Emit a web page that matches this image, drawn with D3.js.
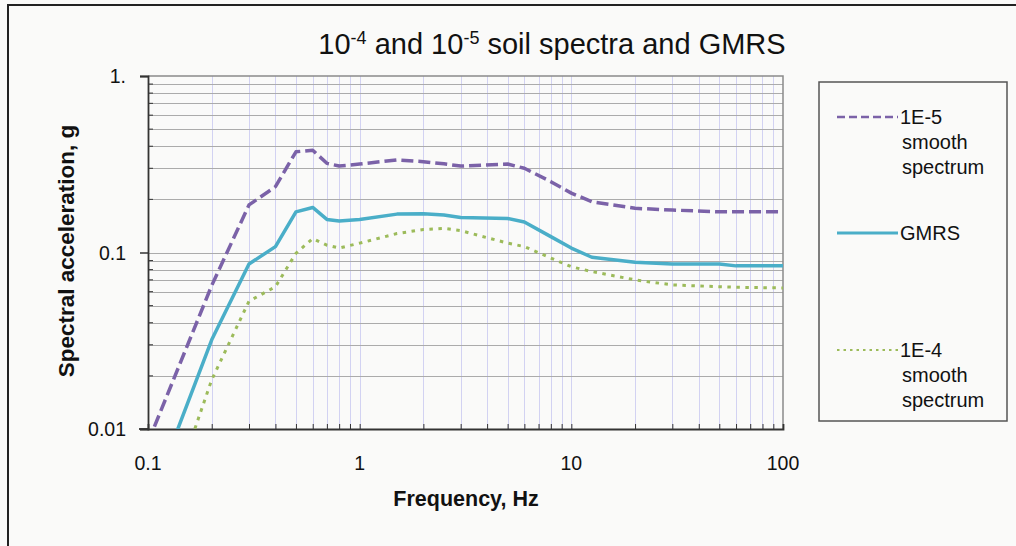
<!DOCTYPE html>
<html>
<head>
<meta charset="utf-8">
<script src="https://cdn.jsdelivr.net/npm/d3@7"></script>
<style>
  html, body { margin: 0; padding: 0; background: #fafaf9; }
  svg { display: block; font-family: "Liberation Sans", Arial, sans-serif; }
</style>
</head>
<body>
<svg id="chart" width="1016" height="546"></svg>
<script>
// Frequencies (Hz) shared by all three spectra
const frequencies = [0.1, 0.2, 0.3, 0.4, 0.5, 0.6, 0.7, 0.8, 1, 1.5, 2, 2.5, 3, 5, 6, 8, 10, 12.5, 20, 30, 50, 60, 100];
// Spectral acceleration (g)
const spectrum1E5 = [0.0084, 0.065, 0.186, 0.236, 0.372, 0.38, 0.32, 0.309, 0.317, 0.335, 0.327, 0.318, 0.309, 0.317, 0.30, 0.252, 0.217, 0.194, 0.178, 0.174, 0.17, 0.17, 0.17];
const gmrs = [0.0036, 0.032, 0.086, 0.108, 0.170, 0.180, 0.154, 0.151, 0.154, 0.165, 0.166, 0.163, 0.158, 0.156, 0.149, 0.123, 0.106, 0.094, 0.088, 0.086, 0.086, 0.084, 0.084];
const spectrum1E4 = [0.0017, 0.019, 0.053, 0.064, 0.099, 0.120, 0.110, 0.106, 0.113, 0.128, 0.135, 0.137, 0.133, 0.113, 0.108, 0.093, 0.083, 0.078, 0.070, 0.0655, 0.064, 0.0635, 0.063];

const seriesNames = ["1E-5 smooth spectrum", "GMRS", "1E-4 smooth spectrum"];
const xTickValues = [0.1, 1, 10, 100];
const xTickLabels = ["0.1", "1", "10", "100"];
const yTickValues = [0.01, 0.1, 1];
const yTickLabels = ["0.01", "0.1", "1."];

const svg = d3.select("#chart");

// outer frame
svg.append("rect").attr("x", 8).attr("y", 5).attr("width", 1030).attr("height", 560)
  .attr("fill", "#fafaf9").attr("stroke", "#222").attr("stroke-width", 2);

const x = d3.scaleLog().domain([0.1, 100]).range([148, 783]);
const y = d3.scaleLog().domain([0.01, 1]).range([429, 76]);

// minor decade values
const minors = (lo, hi) => {
  const out = [];
  for (let d = lo; d < hi; d *= 10) for (let k = 2; k <= 9; k++) out.push(d * k);
  return out;
};
const xGrid = minors(0.1, 100).concat([1, 10]);
const yGrid = minors(0.01, 1).concat([0.1]);

const grid = svg.append("g");
grid.selectAll("line.v").data(xGrid).join("line")
  .attr("x1", d => Math.round(x(d)) + 0.5).attr("x2", d => Math.round(x(d)) + 0.5)
  .attr("y1", y(1)).attr("y2", y(0.01))
  .attr("stroke", "#d2d2f2").attr("stroke-width", 1);
grid.selectAll("line.h").data(yGrid).join("line")
  .attr("y1", d => Math.round(y(d)) + 0.5).attr("y2", d => Math.round(y(d)) + 0.5)
  .attr("x1", x(0.1)).attr("x2", x(100))
  .attr("stroke", "#ababab").attr("stroke-width", 1);

// plot border top/right
svg.append("path")
  .attr("d", `M${x(0.1)},${y(1)}H${x(100)}V${y(0.01)}`)
  .attr("fill", "none").attr("stroke", "#8a8a8a").attr("stroke-width", 1.5);

// x axis
const xAxis = d3.axisBottom(x).tickValues(minors(0.1, 100).concat(xTickValues))
  .tickSize(-5).tickFormat("");
svg.append("g").attr("transform", `translate(0,${y(0.01)})`).call(xAxis)
  .call(g => g.select(".domain").attr("stroke", "#333").attr("stroke-width", 1.8))
  .call(g => g.selectAll(".tick line").attr("stroke", "#333").attr("stroke-width", 1));
svg.append("line").attr("x1", 139).attr("x2", x(0.1)).attr("y1", y(0.01)).attr("y2", y(0.01))
  .attr("stroke", "#333").attr("stroke-width", 1.8);

// y axis
const yAxis = d3.axisLeft(y).tickValues(yTickValues).tickSize(8).tickFormat("");
svg.append("g").attr("transform", `translate(${x(0.1)},0)`).call(yAxis)
  .call(g => g.select(".domain").attr("stroke", "#333").attr("stroke-width", 1.8))
  .call(g => g.selectAll(".tick line").attr("stroke", "#333").attr("stroke-width", 1.5));
svg.append("g").selectAll("line").data(minors(0.01, 1)).join("line")
  .attr("x1", x(0.1)).attr("x2", x(0.1) + 5)
  .attr("y1", d => y(d)).attr("y2", d => y(d))
  .attr("stroke", "#333").attr("stroke-width", 1);

// tick labels
svg.append("g").selectAll("text").data(xTickValues).join("text")
  .attr("x", d => x(d)).attr("y", 470)
  .attr("text-anchor", "middle").attr("font-size", 19.5).attr("fill", "#111")
  .text((d, i) => xTickLabels[i]);
svg.append("g").selectAll("text").data(yTickValues).join("text")
  .attr("x", 126).attr("y", d => y(d) + 7)
  .attr("text-anchor", "end").attr("font-size", 19.5).attr("fill", "#111")
  .text((d, i) => yTickLabels[i]);

// axis titles
svg.append("text").attr("x", 466).attr("y", 506).attr("text-anchor", "middle")
  .attr("font-size", 21.5).attr("font-weight", "bold").attr("fill", "#111")
  .text("Frequency, Hz");
svg.append("text").attr("transform", "translate(74,251) rotate(-90)").attr("text-anchor", "middle")
  .attr("font-size", 22.5).attr("font-weight", "bold").attr("fill", "#111")
  .text("Spectral acceleration, g");

// title
const title = svg.append("text").attr("x", 552).attr("y", 54).attr("text-anchor", "middle")
  .attr("font-size", 29).attr("fill", "#111");
title.append("tspan").text("10");
title.append("tspan").attr("font-size", 18).attr("dy", -10).text("-4");
title.append("tspan").attr("dy", 10).text(" and 10");
title.append("tspan").attr("font-size", 18).attr("dy", -10).text("-5");
title.append("tspan").attr("dy", 10).text(" soil spectra and GMRS");

// series
svg.append("clipPath").attr("id", "plotClip").append("rect")
  .attr("x", x(0.1)).attr("y", y(1)).attr("width", x(100) - x(0.1)).attr("height", y(0.01) - y(1));

const styles = [
  { values: spectrum1E5, color: "#7b62a8", width: 3.5, dash: "12,5", lw: 2.5, ldash: "8,4" },
  { values: gmrs, color: "#4aaec8", width: 3.5, dash: null, lw: 3, ldash: null },
  { values: spectrum1E4, color: "#9cbb5a", width: 3, dash: "3.5,5.5", lw: 2, ldash: "2.5,4" }
];
const line = d3.line().x(d => x(d[0])).y(d => y(d[1]));
const lines = svg.append("g").attr("clip-path", "url(#plotClip)");
styles.forEach(s => {
  lines.append("path")
    .datum(frequencies.map((f, i) => [f, s.values[i]]))
    .attr("d", line).attr("fill", "none")
    .attr("stroke", s.color).attr("stroke-width", s.width)
    .attr("stroke-linejoin", "round")
    .attr("stroke-dasharray", s.dash);
});

// legend
const lg = svg.append("g");
lg.append("rect").attr("x", 819).attr("y", 82).attr("width", 188).attr("height", 339)
  .attr("fill", "#fafaf9").attr("stroke", "#555").attr("stroke-width", 1.5);
const legendRows = [
  { y: 117, lines: ["1E-5", "smooth", "spectrum"] },
  { y: 233, lines: ["GMRS"] },
  { y: 350, lines: ["1E-4", "smooth", "spectrum"] }
];
legendRows.forEach((r, i) => {
  const s = styles[i];
  lg.append("line").attr("x1", 837).attr("x2", 898).attr("y1", r.y).attr("y2", r.y)
    .attr("stroke", s.color).attr("stroke-width", s.lw).attr("stroke-dasharray", s.ldash);
  const t = lg.append("text").attr("x", 900).attr("y", r.y + 7)
    .attr("font-size", 20).attr("fill", "#111").attr("data-series", seriesNames[i]);
  r.lines.forEach((ln, j) => {
    t.append("tspan").attr("x", j === 0 ? 900 : 902).attr("dy", j === 0 ? 0 : 25).text(ln);
  });
});
</script>
</body>
</html>
